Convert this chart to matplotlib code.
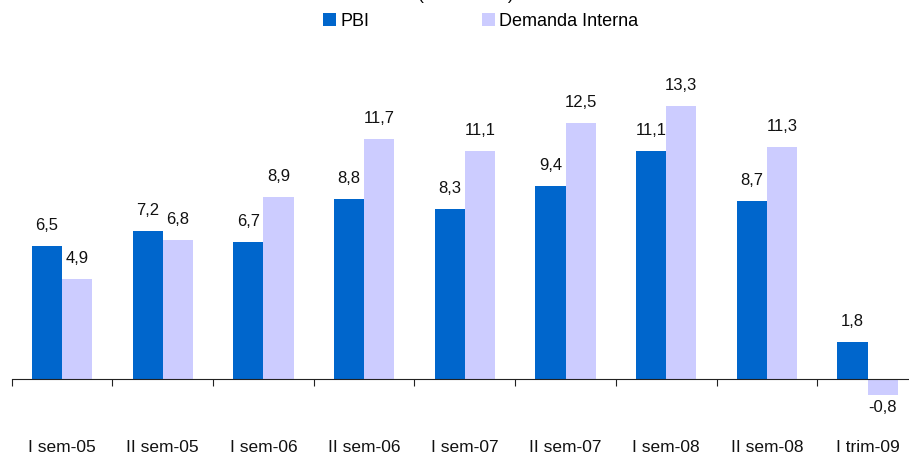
import matplotlib.pyplot as plt
import numpy as np
from matplotlib.ticker import FixedLocator

plt.rcParams['font.family'] = ['Liberation Sans', 'DejaVu Sans']

# Data
periodos = ['I sem-05', 'II sem-05', 'I sem-06', 'II sem-06', 'I sem-07',
            'II sem-07', 'I sem-08', 'II sem-08', 'I trim-09']
pbi = [6.5, 7.2, 6.7, 8.8, 8.3, 9.4, 11.1, 8.7, 1.8]
demanda = [4.9, 6.8, 8.9, 11.7, 11.1, 12.5, 13.3, 11.3, -0.8]

c_pbi = '#0066CC'
c_dem = '#CCCCFF'

fig = plt.figure(figsize=(9.09, 4.54), dpi=100)
# axes slightly wider than the figure, last category is cut at the right edge
ax = fig.add_axes([11.7 / 909, 34 / 454, 906.3 / 909, 369 / 454])

x = np.arange(len(periodos))
w = 0.3
b1 = ax.bar(x - w / 2, pbi, w, color=c_pbi, label='PBI')
b2 = ax.bar(x + w / 2, demanda, w, color=c_dem, label='Demanda Interna')

for bars, vals in [(b1, pbi), (b2, demanda)]:
    for rect, v in zip(bars, vals):
        txt = f'{v:.1f}'.replace('.', ',')
        cx = rect.get_x() + rect.get_width() / 2
        if v >= 0:
            ax.annotate(txt, (cx, v), xytext=(0, 11.5), textcoords='offset points',
                        ha='center', va='baseline', fontsize=12, color='#111111')
        else:
            ax.annotate(txt, (cx, v), xytext=(0, -3), textcoords='offset points',
                        ha='center', va='top', fontsize=12, color='#111111')

ax.set_xlim(-0.5, len(periodos) - 0.5)
ax.set_ylim(-2, 16)

for s in ['left', 'right', 'top']:
    ax.spines[s].set_visible(False)
ax.spines['bottom'].set_position(('data', 0))
ax.spines['bottom'].set_color('#222222')
ax.set_yticks([])

ax.xaxis.set_major_locator(FixedLocator(np.arange(len(periodos) + 1) - 0.5))
ax.xaxis.set_minor_locator(FixedLocator(x))
ax.xaxis.set_major_formatter(plt.NullFormatter())
ax.set_xticks(x, periodos, minor=True)
ax.tick_params(axis='x', which='major', direction='out', length=5, color='#222222')
ax.tick_params(axis='x', which='minor', length=0, pad=44, labelsize=12.5, labelcolor='#111111')

fig.legend(loc='center', bbox_to_anchor=(481 / 909, 1 - 21 / 454), ncol=2, frameon=False,
           fontsize=13, handlelength=0.72, handleheight=0.72, handletextpad=0.25,
           columnspacing=6.2, borderpad=0)

fig.text(466 / 909, 1.0, '(Var. % real)', ha='center', va='baseline', fontsize=12.5)

fig.savefig('out.png', dpi=100)
